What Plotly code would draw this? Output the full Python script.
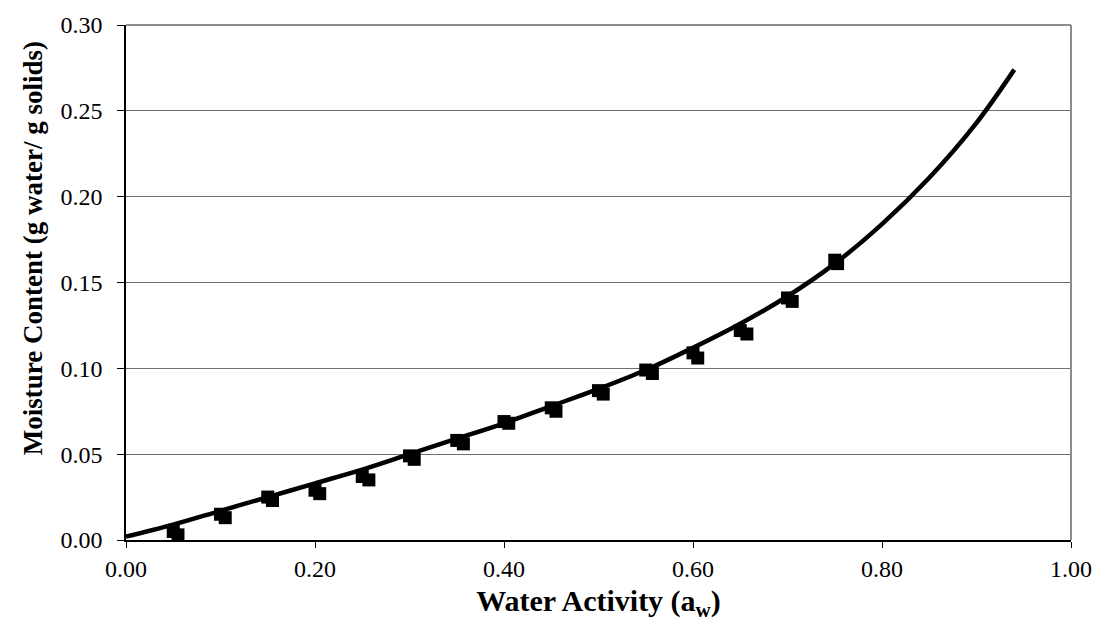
import plotly.graph_objects as go

# Fitted curve
curve_aw = [0.00, 0.05, 0.10, 0.15, 0.20, 0.25, 0.30, 0.35, 0.40, 0.45, 0.50,
            0.55, 0.60, 0.65, 0.70, 0.75, 0.80, 0.85, 0.90, 0.94]
curve_m = [0.002, 0.009, 0.017, 0.025, 0.033, 0.041, 0.050, 0.059, 0.068, 0.078, 0.088,
           0.099, 0.112, 0.126, 0.142, 0.161, 0.184, 0.211, 0.243, 0.274]

# Experimental data, replicate 1 and replicate 2
rep1_aw = [0.05, 0.10, 0.15, 0.20, 0.25, 0.30, 0.35, 0.40, 0.45, 0.50, 0.55, 0.60, 0.65, 0.70, 0.75]
rep1_m = [0.005, 0.015, 0.025, 0.029, 0.037, 0.049, 0.058, 0.069, 0.077, 0.087, 0.099, 0.109, 0.122, 0.141, 0.163]
rep2_aw = [0.055, 0.105, 0.155, 0.205, 0.257, 0.305, 0.357, 0.405, 0.455, 0.505, 0.557, 0.605, 0.657, 0.705, 0.753]
rep2_m = [0.003, 0.013, 0.023, 0.027, 0.035, 0.047, 0.056, 0.068, 0.075, 0.085, 0.097, 0.106, 0.120, 0.139, 0.161]

x_ticks = [0.0, 0.2, 0.4, 0.6, 0.8, 1.0]
y_ticks = [0.0, 0.05, 0.10, 0.15, 0.20, 0.25, 0.30]

x_title = "<b>Water Activity (a<sub>w</sub>)</b>"
y_title = "<b>Moisture Content (g water/ g solids)</b>"

font = "Liberation Serif, Times New Roman, serif"

fig = go.Figure()
for xs, ys in [(rep1_aw, rep1_m), (rep2_aw, rep2_m)]:
    fig.add_trace(go.Scatter(x=xs, y=ys, mode="markers",
                             marker=dict(symbol="square", size=13, color="black",
                                         line=dict(width=0)),
                             showlegend=False, cliponaxis=False))
fig.add_trace(go.Scatter(x=curve_aw, y=curve_m, mode="lines",
                         line=dict(color="black", width=4.5, shape="spline", smoothing=1.0),
                         showlegend=False))

fig.update_layout(
    width=1104, height=627,
    margin=dict(l=126, r=26, t=24, b=87),
    paper_bgcolor="white", plot_bgcolor="white",
    font=dict(family=font, size=24, color="black"),
    xaxis=dict(range=[0, 1], tickvals=x_ticks, ticktext=[f"{v:.2f}" for v in x_ticks],
               showgrid=False, zeroline=False, showline=True, linecolor="black", linewidth=1.5,
               ticks="outside", ticklen=6, tickcolor="black", tickfont=dict(size=24),
               title=dict(text=x_title, font=dict(size=30, family=font), standoff=9)),
    yaxis=dict(range=[0, 0.30], tickvals=y_ticks, ticktext=[f"{v:.2f}" for v in y_ticks],
               showgrid=True, gridcolor="#707070", gridwidth=1.3, zeroline=False,
               showline=True, linecolor="black", linewidth=1.5,
               ticks="outside", ticklen=7, tickcolor="black", tickfont=dict(size=24),
               ticklabelstandoff=10),
    annotations=[
        dict(text=y_title, xref="paper", yref="paper", x=-0.0987, y=0.566,
             xanchor="center", yanchor="middle", textangle=-90, showarrow=False,
             font=dict(size=27, family=font, color="black")),
    ],
    shapes=[
        dict(type="line", xref="paper", yref="paper", x0=0, x1=1, y0=1, y1=1,
             line=dict(color="#8c8c8c", width=2)),
        dict(type="line", xref="paper", yref="paper", x0=1, x1=1, y0=0, y1=1,
             line=dict(color="#8c8c8c", width=2)),
    ],
)

fig.write_html("out.html")
